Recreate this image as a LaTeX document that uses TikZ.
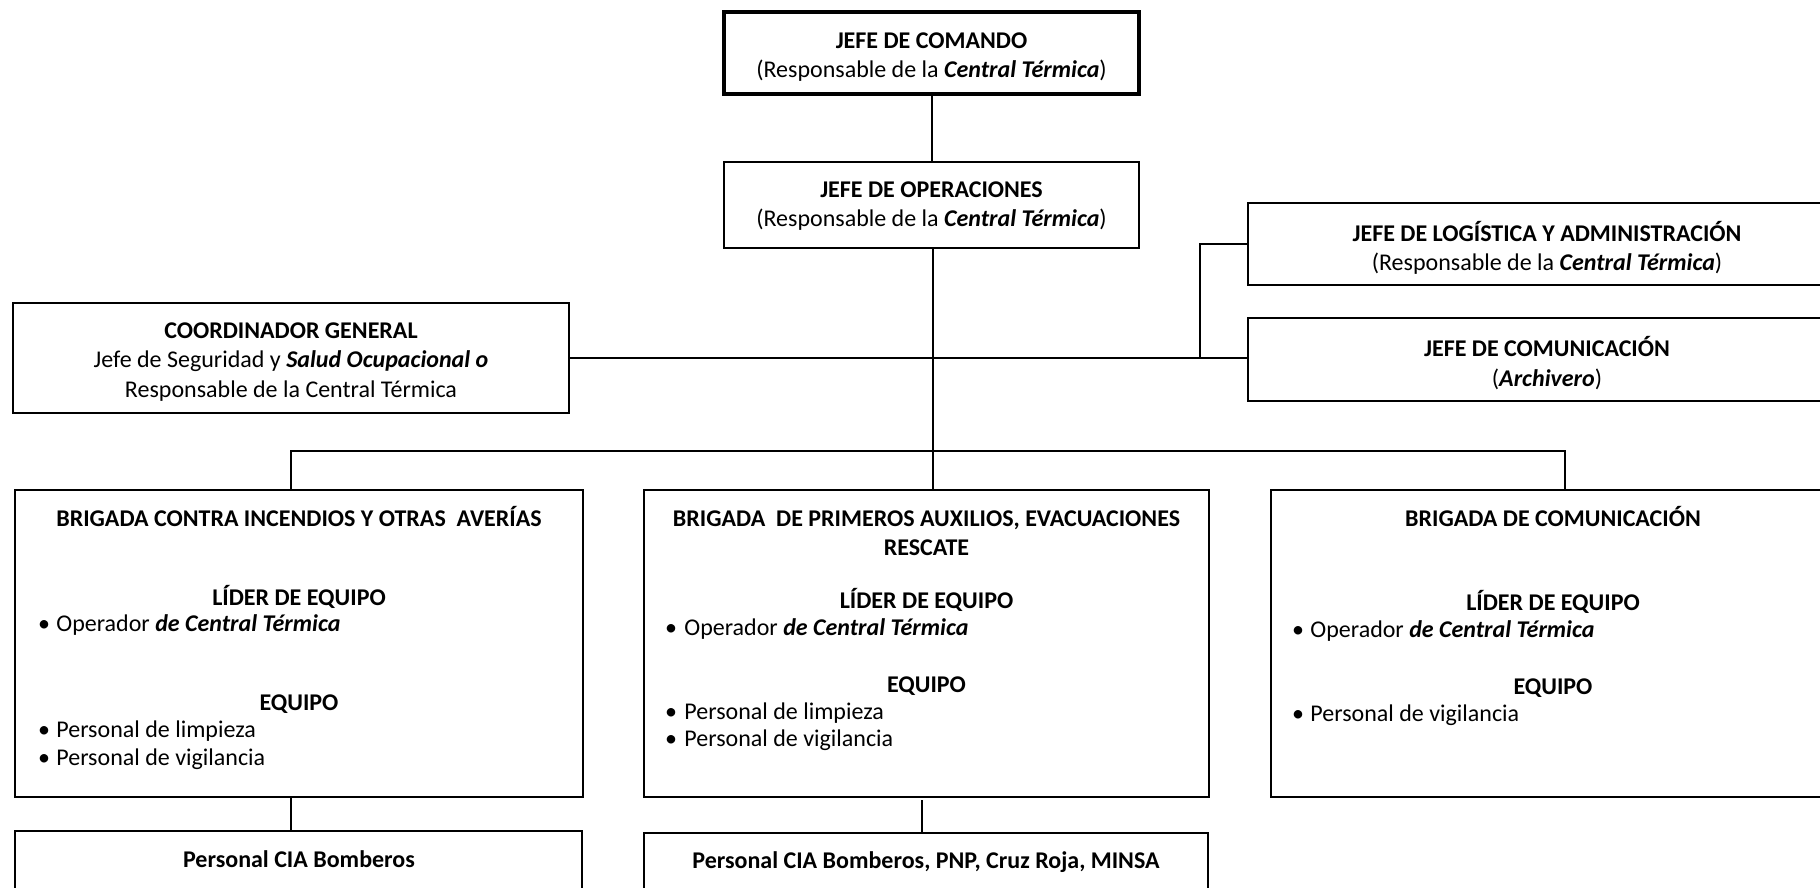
\documentclass[tikz,border=0pt]{standalone}
\usepackage{fontspec}
\setmainfont{Carlito}
\newcommand\chartfont{\fontsize{12pt}{14.8pt}\selectfont}
\newcommand\bi[1]{\textbf{\textit{#1}}}
\begin{document}
\begin{tikzpicture}[x=0.5pt,y=-0.5pt,
  box/.style={draw=black,line width=1pt,rectangle,inner sep=0pt},
  thickbox/.style={box,line width=2pt},
  btxt/.style={inner sep=0pt,font=\chartfont,align=center,yshift=-2pt},
  txt/.style={inner sep=0pt,font=\chartfont,align=center,anchor=mid,yshift=-2pt},
  ltxt/.style={inner sep=0pt,font=\chartfont,anchor=mid west,yshift=-2pt},
  link/.style={draw=black,line width=1pt}]
\useasboundingbox (0,0) rectangle (1820,888);
\clip (0,0) rectangle (1820,888);
\fill[white] (0,0) rectangle (1820,888);

% top boxes
\node[thickbox,minimum width=207.5pt,minimum height=41pt] (comando) at (931.5,53) {};
\node[box,minimum width=207.5pt,minimum height=43pt] (oper) at (931.5,205) {};
\node[box,minimum width=299pt,minimum height=41pt] (logis) at (1547,244) {};
\node[box,minimum width=299pt,minimum height=41.5pt] (comun) at (1547,359) {};
\node[box,minimum width=278pt,minimum height=55pt] (coord) at (291,358) {};

\node[btxt] (comandoT) at (comando.center)
  {\textbf{JEFE DE COMANDO}\\(Responsable de la \bi{Central Térmica})};
\node[btxt,yshift=1.5pt] (operT) at (oper.center)
  {\textbf{JEFE DE OPERACIONES}\\(Responsable de la \bi{Central Térmica})};
\node[btxt] (logisT) at (logis.center)
  {\textbf{JEFE DE LOGÍSTICA Y ADMINISTRACIÓN}\\(Responsable de la \bi{Central Térmica})};
\node[btxt] (comunT) at (comun.center)
  {\textbf{JEFE DE COMUNICACIÓN}\\(\bi{Archivero})};
\node[btxt] (coordT) at (coord.center)
  {\textbf{COORDINADOR GENERAL}\\Jefe de Seguridad y \bi{Salud Ocupacional o}\\Responsable de la Central Térmica};

% brigade boxes
\node[box,minimum width=284pt,minimum height=153.5pt] (brig1) at (299,643.5) {};
\node[box,minimum width=282.5pt,minimum height=153.5pt] (brig2) at (926.5,643.5) {};
\node[box,minimum width=282pt,minimum height=153.5pt] (brig3) at (1553,643.5) {};
\node[box,minimum width=283.5pt,minimum height=54.5pt] (pers1) at (298.5,885.5) {};
\node[box,minimum width=282pt,minimum height=53.5pt] (pers2) at (926,886.5) {};

% brigade 1 text
\node[txt] (b1t) at (299,518) {\textbf{BRIGADA CONTRA INCENDIOS Y OTRAS~ AVERÍAS}};
\node[txt] (b1l) at (299,597) {\textbf{LÍDER DE EQUIPO}};
\node[txt] (b1b1) at (44,623) {\textbullet};
\node[ltxt] (b1i1) at (56,623) {Operador \bi{de Central Térmica}};
\node[txt] (b1e) at (299,702) {\textbf{EQUIPO}};
\node[txt] (b1b2) at (44,729) {\textbullet};
\node[ltxt] (b1i2) at (56,729) {Personal de limpieza};
\node[txt] (b1b3) at (44,757) {\textbullet};
\node[ltxt] (b1i3) at (56,757) {Personal de vigilancia};

% brigade 2 text
\node[txt] (b2t) at (926.5,518) {\textbf{BRIGADA~ DE PRIMEROS AUXILIOS, EVACUACIONES}};
\node[txt] (b2t2) at (926.5,547) {\textbf{RESCATE}};
\node[txt] (b2l) at (926.5,600) {\textbf{LÍDER DE EQUIPO}};
\node[txt] (b2b1) at (671,627) {\textbullet};
\node[ltxt] (b2i1) at (684,627) {Operador \bi{de Central Térmica}};
\node[txt] (b2e) at (926.5,684) {\textbf{EQUIPO}};
\node[txt] (b2b2) at (671,711) {\textbullet};
\node[ltxt] (b2i2) at (684,711) {Personal de limpieza};
\node[txt] (b2b3) at (671,738) {\textbullet};
\node[ltxt] (b2i3) at (684,738) {Personal de vigilancia};

% brigade 3 text
\node[txt] (b3t) at (1553,518) {\textbf{BRIGADA DE COMUNICACIÓN}};
\node[txt] (b3l) at (1553,602) {\textbf{LÍDER DE EQUIPO}};
\node[txt] (b3b1) at (1298,629) {\textbullet};
\node[ltxt] (b3i1) at (1310,629) {Operador \bi{de Central Térmica}};
\node[txt] (b3e) at (1553,686) {\textbf{EQUIPO}};
\node[txt] (b3b2) at (1298,713) {\textbullet};
\node[ltxt] (b3i2) at (1310,713) {Personal de vigilancia};

% support boxes text
\node[txt] (p1t) at (299,859) {\textbf{Personal CIA Bomberos}};
\node[txt] (p2t) at (926,860) {\textbf{Personal CIA Bomberos, PNP, Cruz Roja, MINSA}};

% connectors
\coordinate (spine) at (933,451);
\coordinate (busL) at (291,451);
\coordinate (busR) at (1565,451);
\coordinate (jn) at (1200,358);
\path[link] (comando.south) -- (oper.north);
\path[link] (oper.south -| spine) -- (spine) -- (spine |- brig2.north);
\path[link] (coord.east) -- (coord.east -| comun.west);
\path[link] (jn) |- (logis.west);
\path[link] (busL |- brig1.north) -- (busL) -- (busR) -- (busR |- brig3.north);
\path[link] (brig1.south -| busL) -- (busL |- pers1.north);
\coordinate (b2drop) at (922,800);
\path[link] (b2drop) -- (b2drop |- pers2.north);
\end{tikzpicture}
\end{document}
